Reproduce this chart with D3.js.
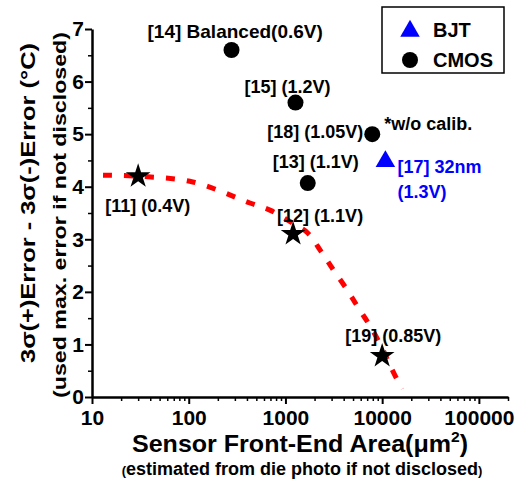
<!DOCTYPE html>
<html>
<head>
<meta charset="utf-8">
<script src="https://cdn.jsdelivr.net/npm/d3@7"></script>
<style>
  body { margin: 0; background: #fff; }
  svg { display: block; font-family: "Liberation Sans", Arial, sans-serif; font-weight: bold; }
</style>
</head>
<body>
<div id="chart"></div>
<script>
// values
const xTicks = [10, 100, 1000, 10000, 100000];
const yTicks = [0, 1, 2, 3, 4, 5, 6, 7];

// CMOS designs: [ref label, area um^2, error C]
const cmosLabels = ["[14] Balanced(0.6V)", "[15] (1.2V)", "[18] (1.05V)", "[13] (1.1V)"];
const cmosArea   = [277, 1270, 7900, 1700];
const cmosError  = [6.6, 5.6, 5.0, 4.07];

// BJT design
const bjtLabels = ["[17] 32nm", "(1.3V)"];
const bjtArea   = [10800];
const bjtError  = [4.48];

// starred (highlighted) designs on the trend line
const starLabels = ["[11] (0.4V)", "[12] (1.1V)", "[19] (0.85V)"];
const starArea   = [30, 1200, 10000];
const starError  = [4.2, 3.1, 0.78];

// red dashed trend, read point by point
const trendArea  = [13, 30, 110, 430, 700, 1200, 1700, 2350, 3100, 4300, 5700, 7500, 10000, 12300, 16000];
const trendError = [4.22, 4.2, 4.09, 3.69, 3.55, 3.3, 3.12, 2.76, 2.43, 2.05, 1.69, 1.35, 0.93, 0.57, 0.15];

const width = 518, height = 481;

const x = d3.scaleLog().domain([10, 200000]).range([92, 508]);
const y = d3.scaleLinear().domain([0, 7]).range([397, 29]);

const svg = d3.select("#chart").append("svg")
  .attr("width", width)
  .attr("height", height);

// label offsets from their marker (px)
const cmosOff = [[-84, -12], [-51, -10], [-105, 4], [-35, -15]];
const starOff = [[-33, 36], [-16, -12], [-37, -14]];

// trend line
const line = d3.line()
  .x((d, i) => x(trendArea[i]))
  .y((d, i) => y(trendError[i]))
  .curve(d3.curveCatmullRom);

svg.append("path")
  .attr("d", line(trendArea))
  .attr("fill", "none")
  .attr("stroke", "#ff0000")
  .attr("stroke-width", 5)
  .attr("stroke-dasharray", "9,12");

// axes
const xMinor = [];
for (let p = 10; p < 200000; p *= 10) {
  for (let k = 2; k <= 9; k++) if (p * k <= 200000) xMinor.push(p * k);
}

const xAxis = svg.append("g").attr("transform", "translate(0,397)");
xAxis.append("g")
  .call(d3.axisBottom(x).tickValues(xMinor).tickSize(4).tickFormat(""))
  .call(g => g.select(".domain").remove())
  .selectAll("line").attr("stroke-width", 1.5);
xAxis.append("g")
  .call(d3.axisBottom(x).tickValues(xTicks).tickSize(7).tickSizeOuter(0).tickFormat(d3.format("d")))
  .call(g => g.select(".domain").attr("stroke-width", 2.5))
  .call(g => g.selectAll("line").attr("stroke-width", 2))
  .call(g => g.selectAll("text")
    .attr("font-size", 21).attr("font-weight", "bold").attr("fill", "#000")
    .attr("font-family", "Liberation Sans, Arial, sans-serif")
    .attr("dy", "0.85em"));

const yMinor = yTicks.slice(0, -1).map(v => v + 0.5);
const yAxis = svg.append("g").attr("transform", "translate(92,0)");
yAxis.append("g")
  .call(d3.axisLeft(y).tickValues(yMinor).tickSize(4).tickFormat(""))
  .call(g => g.select(".domain").remove())
  .selectAll("line").attr("stroke-width", 1.5);
yAxis.append("g")
  .call(d3.axisLeft(y).tickValues(yTicks).tickSize(7).tickSizeOuter(0).tickFormat(d3.format("d")))
  .call(g => g.select(".domain").attr("stroke-width", 2.5))
  .call(g => g.selectAll("line").attr("stroke-width", 2))
  .call(g => g.selectAll("text")
    .attr("font-size", 21).attr("font-weight", "bold").attr("fill", "#000")
    .attr("font-family", "Liberation Sans, Arial, sans-serif")
    .attr("x", -8));

// markers
svg.selectAll("circle.cmos")
  .data(cmosArea)
  .join("circle")
  .attr("class", "cmos")
  .attr("cx", d => x(d))
  .attr("cy", (d, i) => y(cmosError[i]))
  .attr("r", 8)
  .attr("fill", "#000");

svg.selectAll("path.bjt")
  .data(bjtArea)
  .join("path")
  .attr("class", "bjt")
  .attr("transform", (d, i) => `translate(${x(d)},${y(bjtError[i])})`)
  .attr("d", d3.symbol(d3.symbolTriangle, 165))
  .attr("fill", "#0000ff");

svg.selectAll("path.star")
  .data(starArea)
  .join("path")
  .attr("class", "star")
  .attr("transform", (d, i) => `translate(${x(d)},${y(starError[i])})`)
  .attr("d", d3.symbol(d3.symbolStar, 190))
  .attr("fill", "#000");

// data labels
svg.selectAll("text.cmosLab")
  .data(cmosLabels)
  .join("text")
  .attr("class", "cmosLab")
  .attr("x", (d, i) => x(cmosArea[i]) + cmosOff[i][0])
  .attr("y", (d, i) => y(cmosError[i]) + cmosOff[i][1])
  .attr("font-size", (d, i) => i === 0 ? 19 : 18)
  .text(d => d);

svg.append("text")
  .attr("x", x(cmosArea[2]) + 12)
  .attr("y", y(cmosError[2]) - 4)
  .attr("font-size", 18)
  .text("*w/o calib.");

svg.selectAll("text.starLab")
  .data(starLabels)
  .join("text")
  .attr("class", "starLab")
  .attr("x", (d, i) => x(starArea[i]) + starOff[i][0])
  .attr("y", (d, i) => y(starError[i]) + starOff[i][1])
  .attr("font-size", 18)
  .text(d => d);

svg.selectAll("text.bjtLab")
  .data(bjtLabels)
  .join("text")
  .attr("class", "bjtLab")
  .attr("x", x(bjtArea[0]) + 12)
  .attr("y", (d, i) => y(bjtError[0]) + 12 + i * 25)
  .attr("font-size", 18)
  .attr("fill", "#0000ff")
  .text(d => d);

// legend
const legend = svg.append("g");
legend.append("rect")
  .attr("x", 382).attr("y", 7)
  .attr("width", 122).attr("height", 66)
  .attr("fill", "#fff").attr("stroke", "#000").attr("stroke-width", 1.5);
legend.append("path")
  .attr("transform", "translate(410,31)")
  .attr("d", d3.symbol(d3.symbolTriangle, 165))
  .attr("fill", "#0000ff");
legend.append("circle")
  .attr("cx", 410).attr("cy", 60).attr("r", 8).attr("fill", "#000");
legend.append("text").attr("x", 433).attr("y", 37).attr("font-size", 20).text("BJT");
legend.append("text").attr("x", 433).attr("y", 67).attr("font-size", 20).text("CMOS");

// axis titles
const xt = svg.append("text")
  .attr("x", 300).attr("y", 452)
  .attr("text-anchor", "middle")
  .attr("font-size", 24)
  .attr("textLength", 336)
  .attr("lengthAdjust", "spacingAndGlyphs");
xt.append("tspan").text("Sensor Front-End Area(\u03bcm");
xt.append("tspan").attr("font-size", 15).attr("dy", -10).text("2");
xt.append("tspan").attr("dy", 10).text(")");

const st = svg.append("text")
  .attr("x", 302).attr("y", 475)
  .attr("text-anchor", "middle")
  .attr("font-size", 18);
st.append("tspan").attr("font-size", 13).text("(");
st.append("tspan").text("estimated from die photo if not disclosed");
st.append("tspan").attr("font-size", 13).text(")");

svg.append("text")
  .attr("transform", "translate(35,203) rotate(-90)")
  .attr("text-anchor", "middle")
  .attr("font-size", 21)
  .attr("textLength", 320)
  .attr("lengthAdjust", "spacingAndGlyphs")
  .text("3\u03c3(+)Error - 3\u03c3(-)Error (\u00b0C)");

svg.append("text")
  .attr("transform", "translate(66,215) rotate(-90)")
  .attr("text-anchor", "middle")
  .attr("font-size", 19)
  .attr("textLength", 366)
  .attr("lengthAdjust", "spacingAndGlyphs")
  .text("(used max. error if not disclosed)");
</script>
</body>
</html>
